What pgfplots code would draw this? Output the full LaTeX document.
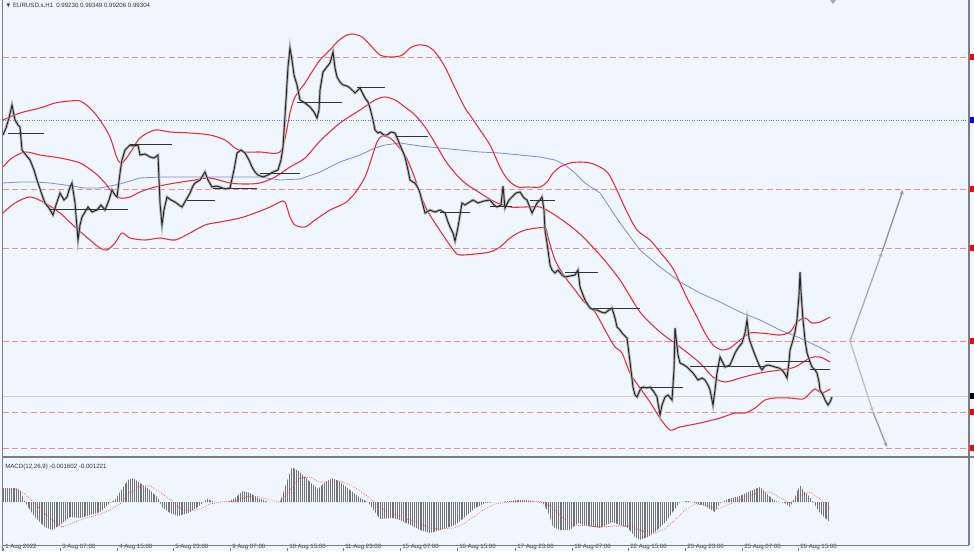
\documentclass[border=0pt]{standalone}
\usepackage{fontspec}
\setmainfont{Liberation Sans}
\usepackage{pgfplots}
\pgfplotsset{compat=1.18}
\usetikzlibrary{arrows.meta,patterns.meta}

\definecolor{bg}{RGB}{240,246,253}
\definecolor{band}{RGB}{232,44,52}
\definecolor{lvl}{RGB}{238,140,146}
\definecolor{ma}{RGB}{125,135,228}
\definecolor{dotblue}{RGB}{95,115,235}
\definecolor{frame}{RGB}{125,125,125}
\definecolor{hist}{RGB}{115,115,115}
\newcommand\mt{\fontsize{4.6}{5.5}\selectfont}

\begin{document}
\begin{tikzpicture}
% price panel, coordinates in pixels from the top
\begin{axis}[name=main, at={(0,0)}, anchor=north west,
    x=0.75pt, y=0.75pt, xmin=0, xmax=974, ymin=0, ymax=458, y dir=reverse,
    axis line style={draw=none}, ticks=none,
    axis background/.style={fill=bg}]
% levels
\addplot[lvl, line width=0.75pt, dash pattern=on 4.5pt off 2.4pt, unbounded coords=jump] coordinates {
 (3,57)(969,57) (3,nan) (3,189)(969,189) (3,nan) (3,248)(969,248) (3,nan)
 (3,341)(969,341) (3,nan) (3,412)(969,412) (3,nan) (3,448)(969,448)};
\addplot[dotblue, line width=0.5pt, dash pattern=on 0.6pt off 1.2pt] coordinates {(3,120)(969,120)};
\addplot[gray!35, line width=0.6pt] coordinates {(3,396)(969,396)};
% moving average
\addplot[ma, line width=0.6pt] coordinates {
 (3,183)(20,182)(35,182)(50,183)(65,185)(85,188)(100,188)(120,184)(140,178)(160,177)
 (200,177)(240,177)(260,177)(280,180)(300,179)(320,172)(340,162)(360,155)(375,148)
 (385,145)(400,143)(420,146)(440,148)(460,150)(480,152)(500,153)(520,155)(540,157)
 (555,160)(565,165)(575,173)(585,183)(600,193)(620,223)(640,250)(660,267)(680,282)
 (700,293)(720,302)(740,312)(760,320)(780,330)(800,338)(815,345)(830,353)};
% bollinger bands
\addplot[band, line width=0.8pt, smooth] coordinates {
 (3,120)(20,113)(40,108)(55,103)(70,101)(80,101)(90,108)(100,120)(110,137)(117,158)
 (122,163)(130,153)(140,138)(155,130)(170,132)(190,133)(210,135)(225,140)(235,148)
 (245,152)(260,152)(278,153)(284,143)(290,113)(295,97)(305,83)(310,75)(320,60)(330,50)
 (337,42)(345,36)(352,34)(362,37)(372,47)(380,55)(390,57)(400,56)(405,53)(410,48)
 (418,45)(427,46)(435,52)(445,67)(455,88)(465,108)(472,118)(480,130)(490,145)(500,167)
 (508,180)(518,187)(528,187)(540,187)(547,182)(553,173)(560,167)(570,163)(580,162)
 (590,163)(600,167)(608,173)(615,186)(620,197)(627,212)(637,230)(650,240)(660,252)
 (672,267)(680,283)(688,300)(697,317)(705,333)(713,345)(722,350)(730,348)(740,340)
 (750,333)(760,333)(770,334)(780,335)(790,332)(797,322)(805,318)(812,323)(820,322)(830,317)};
\addplot[band, line width=0.8pt, smooth] coordinates {
 (3,167)(12,158)(25,152)(40,155)(60,158)(80,163)(95,173)(105,183)(112,192)(120,198)
 (130,197)(140,192)(155,187)(175,183)(195,180)(210,178)(230,183)(245,184)(260,183)
 (275,177)(290,167)(305,158)(320,141)(340,123)(360,110)(375,100)(385,97)(395,100)
 (405,107)(415,115)(425,127)(435,143)(445,160)(455,173)(465,183)(480,193)(495,202)
 (510,207)(525,207)(540,207)(550,212)(565,222)(580,234)(600,255)(620,280)(640,312)
 (660,332)(680,347)(700,363)(713,377)(725,382)(740,378)(760,373)(780,370)(795,367)
 (810,358)(820,357)(830,362)};
\addplot[band, line width=0.8pt, smooth] coordinates {
 (3,213)(15,203)(30,197)(45,203)(60,213)(75,227)(90,240)(100,248)(107,250)(115,243)
 (122,233)(130,238)(145,240)(160,238)(175,240)(190,233)(205,225)(220,222)(240,218)
 (255,213)(270,207)(280,202)(285,202)(290,217)(295,225)(305,227)(315,220)(330,210)
 (345,203)(355,193)(365,177)(372,157)(377,142)(382,136)(390,138)(397,145)(405,155)
 (413,173)(420,193)(427,210)(435,223)(445,238)(455,252)(460,255)(475,254)(490,252)
 (500,247)(510,238)(520,232)(530,229)(545,228)(548,237)(555,260)(565,277)(575,290)
 (585,303)(595,312)(605,330)(615,347)(622,353)(630,373)(640,388)(650,402)(660,418)
 (670,430)(680,427)(700,423)(720,418)(735,413)(745,413)(755,408)(765,400)(775,398)
 (790,398)(803,399)(810,393)(815,389)(822,393)(830,389)};
% price
\def\price{(3,135)(6,128)(9,118)(12,105)(15,120)(18,125)(20,127)(22,150)(26,155)(30,160)
 (34,170)(37,180)(41,192)(45,203)(49,208)(53,215)(56,205)(60,193)(64,200)(67,197)(70,187)
 (72,183)(75,203)(78,240)(80,225)(82,217)(85,212)(88,207)(92,212)(97,210)(101,205)
 (105,210)(109,200)(112,190)(115,195)(117,197)(120,173)(122,160)(125,150)(128,147)
 (130,145)(134,146)(138,145)(140,155)(145,154)(150,157)(154,158)(158,155)(160,203)
 (162,225)(164,210)(167,197)(171,200)(175,202)(179,205)(182,207)(186,200)(190,193)
 (193,186)(195,183)(200,180)(205,172)(208,180)(212,187)(216,186)(220,187)(225,189)
 (230,188)(234,170)(237,153)(241,150)(245,153)(249,160)(252,167)(255,172)(258,175)
 (263,177)(268,175)(273,172)(278,170)(281,160)(283,147)(286,100)(288,67)(290,48)
 (292,60)(294,75)(297,85)(300,100)(305,103)(310,107)(314,112)(317,118)(319,110)
 (320,90)(323,72)(326,68)(330,63)(333,52)(335,68)(337,77)(340,82)(343,85)(347,86)
 (350,88)(353,91)(355,93)(358,90)(360,88)(363,94)(365,98)(368,102)(370,108)(373,120)
 (375,130)(378,133)(380,132)(384,135)(387,135)(391,132)(395,133)(398,140)(400,145)
 (403,152)(405,157)(408,170)(410,180)(413,182)(415,183)(418,188)(420,193)(423,205)
 (425,213)(430,210)(435,212)(440,210)(445,213)(448,222)(450,227)(453,233)(455,241)
 (457,232)(458,227)(460,215)(462,203)(465,205)(468,203)(473,200)(478,203)(484,201)
 (490,200)(494,205)(497,207)(501,205)(503,186)(505,208)(509,200)(512,197)(516,193)
 (520,192)(524,198)(527,200)(530,208)(532,213)(535,207)(537,203)(540,200)(542,197)
 (544,210)(545,230)(548,250)(550,265)(552,270)(555,273)(558,270)(562,275)(565,277)
 (570,276)(575,275)(578,270)(580,287)(583,295)(585,300)(588,305)(590,308)(594,310)
 (597,310)(601,312)(605,313)(609,310)(612,308)(615,318)(617,327)(620,330)(622,333)
 (625,336)(627,338)(630,362)(633,387)(635,395)(637,397)(640,390)(643,387)(647,388)
 (650,387)(654,392)(657,397)(660,415)(662,405)(665,397)(668,395)(672,400)(674,370)
 (675,328)(678,355)(680,363)(684,365)(687,367)(690,370)(693,373)(698,380)(702,378)
 (705,380)(708,385)(710,390)(713,405)(715,390)(717,373)(720,357)(723,363)(725,367)
 (730,365)(733,358)(735,353)(738,348)(742,343)(745,333)(747,320)(749,338)(752,347)
 (755,355)(757,360)(760,367)(762,370)(765,366)(768,365)(772,366)(775,367)(779,368)
 (782,370)(785,374)(787,378)(789,362)(790,350)(793,340)(795,332)(797,320)(799,295)
 (800,272)(801,292)(803,320)(805,340)(807,353)(810,362)(812,367)(815,370)(817,373)
 (819,382)(820,390)(823,395)(825,400)(828,405)(830,402)(832,397)}
\addplot[gray!60, line width=2pt] coordinates {\price};
\addplot[black!85, line width=0.7pt] coordinates {\price};
% period segments
\addplot[black!80, line width=0.7pt, unbounded coords=jump] coordinates {
 (8,133)(44,133) (0,nan) (50,209)(128,209) (0,nan) (130,144)(172,144) (0,nan)
 (187,200)(215,200) (0,nan) (213,188)(257,188) (0,nan) (260,173)(300,173) (0,nan)
 (297,102)(342,102) (0,nan) (357,87)(385,87) (0,nan) (397,136)(428,136) (0,nan)
 (440,212)(470,212) (0,nan) (490,206)(512,206) (0,nan) (530,200)(555,200) (0,nan)
 (565,272)(598,272) (0,nan) (593,308)(640,308) (0,nan) (640,387)(683,387) (0,nan)
 (690,366)(765,366) (0,nan) (765,361)(810,361) (0,nan) (810,369)(830,369)};
% projection arrows
\addplot[gray!65, line width=1pt, -{Stealth[length=3.5pt,width=3pt]}] coordinates {(850,341)(882,252)};
\addplot[gray!85, line width=1pt, -{Stealth[length=3.5pt,width=3pt]}] coordinates {(882,252)(903,190)};
\addplot[gray!50, line width=1pt, -{Stealth[length=3.5pt,width=3pt]}] coordinates {(850,341)(873,412)};
\addplot[gray!75, line width=1pt, -{Stealth[length=3.5pt,width=3pt]}] coordinates {(873,412)(887,447)};
% frame
\draw[frame, line width=0.8pt] (2.5,0) -- (2.5,458);
\draw[frame, line width=0.8pt] (969,0) -- (969,458);
\draw[frame, line width=0.9pt] (2.5,457) -- (974,457);
\fill[red] (970,54) rectangle (974,60);
\fill[red] (970,186) rectangle (974,192);
\fill[red] (970,245) rectangle (974,251);
\fill[red] (970,338) rectangle (974,344);
\fill[red] (970,409) rectangle (974,415);
\fill[red] (970,445) rectangle (974,451);
\fill[blue] (970,117) rectangle (974,123);
\fill[black] (970,393) rectangle (974,399);
\fill[gray!70] (830,0) -- (836,0) -- (833,4) -- cycle;
\node[anchor=west, inner sep=0pt, text=black!80] at (5,6) {\mt ▼ EURUSD.s,H1\enspace 0.99230 0.99349 0.99206 0.99304};
\end{axis}

% MACD panel
\begin{axis}[name=macd, at={(main.south west)}, anchor=north west,
    x=0.75pt, y=0.75pt, xmin=0, xmax=974, ymin=-49, ymax=44,
    axis line style={draw=none}, axis background/.style={fill=bg},
    ytick=\empty, xtick pos=bottom, tick align=inside, major tick length=2.5pt,
    xtick style={draw=frame, line width=0.5pt},
    xtick={3,60,117,173,230,287,343,400,457,515,572,628,685,742,798},
    xticklabels={1 Aug 2022,3 Aug 07:00,4 Aug 15:00,5 Aug 23:00,9 Aug 07:00,10 Aug 15:00,
      11 Aug 23:00,15 Aug 07:00,16 Aug 15:00,17 Aug 23:00,19 Aug 07:00,22 Aug 15:00,
      23 Aug 23:00,25 Aug 07:00,26 Aug 15:00},
    xticklabel style={anchor=south west, inner sep=0pt, yshift=0.5pt, xshift=1.5pt,
      font=\mt, text=black!75}]
\addplot[draw=none, pattern={Lines[angle=90,distance=1.4pt,line width=0.7pt]}, pattern color=hist] coordinates {
 (3,14)(15,14)(20,12)(25,0)(30,-8)(35,-15)(40,-20)(45,-25)(52,-28)(60,-23)(70,-15)(80,-16)
 (90,-13)(100,-10)(110,-1)(115,2)(120,10)(128,22)(133,24)(140,19)(150,12)(158,4)(162,-5)
 (170,-11)(178,-14)(188,-11)(198,-5)(207,3)(215,0)(228,0)(235,4)(243,11)(250,9)(258,4)
 (268,0)(280,0)(285,15)(292,35)(300,30)(310,20)(318,13)(325,20)(333,24)(340,20)(350,12)
 (360,4)(368,0)(375,-10)(380,-17)(393,-16)(400,-18)(410,-23)(420,-28)(430,-31)(440,-28)
 (455,-23)(465,-15)(475,-6)(485,-1)(495,0)(500,0)(520,2)(527,2)(535,0)(543,-1)(548,-10)
 (553,-25)(560,-28)(570,-28)(578,-21)(588,-24)(600,-26)(612,-20)(620,-23)(628,-26)
 (635,-35)(640,-38)(648,-35)(655,-30)(665,-21)(672,-11)(680,0)(688,1)(695,-1)(705,-4)
 (715,-10)(720,-1)(728,3)(740,6)(750,11)(760,15)(768,7)(775,1)(785,-1)(790,-5)(795,5)
 (800,17)(805,10)(810,5)(815,-3)(820,-11)(825,-16)(830,-20)} \closedcycle;
\addplot[red!75, line width=0.5pt, densely dotted] coordinates {
 (3,12)(15,13)(25,8)(35,-2)(45,-12)(55,-20)(62,-25)(70,-22)(80,-18)(90,-15)(100,-12)
 (110,-8)(120,-2)(128,8)(140,16)(150,16)(160,10)(170,2)(180,-6)(190,-9)(200,-7)(210,-2)
 (220,0)(235,1)(250,6)(260,5)(270,2)(280,0)(290,12)(300,24)(310,25)(320,20)(330,20)
 (340,21)(350,17)(360,11)(370,4)(380,-5)(390,-11)(400,-15)(410,-18)(420,-22)(430,-26)
 (440,-27)(455,-26)(465,-21)(475,-14)(485,-7)(495,-2)(510,0)(530,1)(545,0)(555,-8)
 (565,-18)(575,-23)(590,-24)(600,-25)(615,-24)(630,-24)(645,-30)(655,-31)(665,-27)
 (675,-18)(685,-8)(695,-2)(705,-3)(718,-7)(730,-2)(745,4)(760,10)(770,10)(780,4)
 (790,-1)(800,6)(810,10)(820,3)(830,-6)};
\draw[frame, line width=0.8pt] (2.5,-49) -- (2.5,44);
\draw[frame, line width=0.8pt] (969,-43) -- (969,44);
\draw[frame, line width=0.6pt] (2.5,-43) -- (969,-43);
\node[anchor=west, inner sep=0pt, text=black!80] at (5,35) {\mt MACD(12,26,9) -0.001602 -0.001221};
\end{axis}
\end{tikzpicture}
\end{document}
